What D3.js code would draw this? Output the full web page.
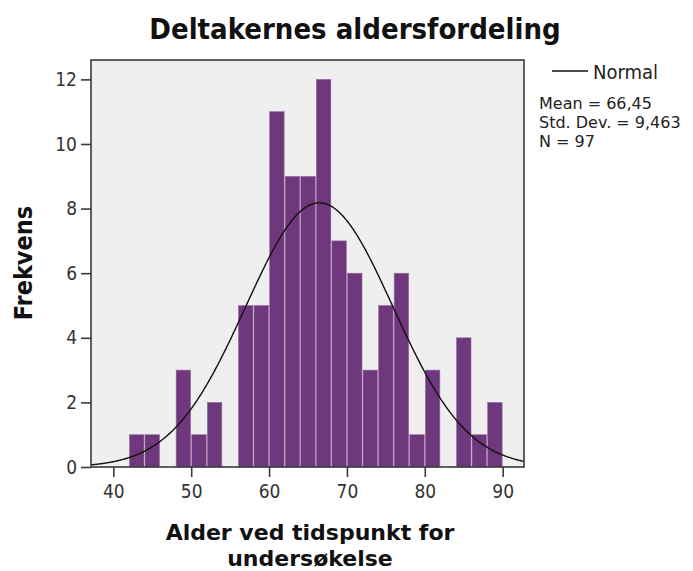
<!DOCTYPE html>
<html>
<head>
<meta charset="utf-8">
<script src="https://cdn.jsdelivr.net/npm/d3@7"></script>
<style>
  html, body { margin: 0; padding: 0; background: #ffffff; }
  svg { display: block; }
  text { font-family: "DejaVu Sans Condensed", "DejaVu Sans", sans-serif; }
</style>
</head>
<body>
<svg id="chart" width="693" height="571"></svg>
<script>
// ---- data ----
const binStarts = [42, 44, 46, 48, 50, 52, 54, 56, 58, 60, 62, 64, 66, 68, 70, 72, 74, 76, 78, 80, 82, 84, 86, 88];
const counts    = [ 1,  1,  0,  3,  1,  2,  0,  5,  5, 11,  9,  9, 12,  7,  6,  3,  5,  6,  1,  3,  0,  4,  1,  2];
const binWidth = 2;
const xTicks = [40, 50, 60, 70, 80, 90];
const yTicks = [0, 2, 4, 6, 8, 10, 12];
const statMean = 66.45;
const statSD = 9.463;
const statN = 97;
const titleText = "Deltakernes aldersfordeling";
const xLabelLines = ["Alder ved tidspunkt for", "undersøkelse"];
const yLabelText = "Frekvens";
const legendName = "Normal";
const legendLines = ["Mean = 66,45", "Std. Dev. = 9,463", "N = 97"];

// ---- layout ----
const svg = d3.select("#chart");
const plot = { left: 91, right: 524, top: 60, bottom: 467 };
const FONT = "DejaVu Sans Condensed, DejaVu Sans, sans-serif";
const FONT_REG = "DejaVu Sans, sans-serif";

const x = d3.scaleLinear().domain([37.13, 92.74]).range([plot.left, plot.right]);
const y = d3.scaleLinear().domain([0, 12.6]).range([plot.bottom, plot.top]);

// plot background
svg.append("rect")
  .attr("x", plot.left).attr("y", plot.top)
  .attr("width", plot.right - plot.left).attr("height", plot.bottom - plot.top)
  .attr("fill", "#efefef");

svg.append("clipPath").attr("id", "clip")
  .append("rect")
  .attr("x", plot.left).attr("y", plot.top)
  .attr("width", plot.right - plot.left).attr("height", plot.bottom - plot.top);

// bars
const bins = binStarts.map((s, i) => ({ x0: s, x1: s + binWidth, n: counts[i] })).filter(d => d.n > 0);
svg.append("g").selectAll("rect").data(bins).join("rect")
  .attr("x", d => x(d.x0) + 0.5)
  .attr("width", d => x(d.x1) - x(d.x0) - 1)
  .attr("y", d => y(d.n))
  .attr("height", d => y(0) - y(d.n))
  .attr("fill", "#6f387c")
  .attr("stroke", "#9a72a3")
  .attr("stroke-width", 0.6);

// normal curve
const curveXs = d3.range(x.domain()[0], x.domain()[1] + 0.01, 0.1);
const pdf = v => Math.exp(-0.5 * Math.pow((v - statMean) / statSD, 2)) / (statSD * Math.sqrt(2 * Math.PI));
svg.append("path")
  .datum(curveXs)
  .attr("clip-path", "url(#clip)")
  .attr("fill", "none")
  .attr("stroke", "#111")
  .attr("stroke-width", 1.4)
  .attr("d", d3.line().x(v => x(v)).y(v => y(statN * binWidth * pdf(v))));

// frame
svg.append("rect")
  .attr("x", plot.left).attr("y", plot.top)
  .attr("width", plot.right - plot.left).attr("height", plot.bottom - plot.top)
  .attr("fill", "none").attr("stroke", "#3a3a3a").attr("stroke-width", 1.6);

// axes
const xAxis = svg.append("g")
  .attr("transform", `translate(0,${plot.bottom})`)
  .call(d3.axisBottom(x).tickValues(xTicks).tickSize(10).tickPadding(7.5).tickFormat(d3.format("d")));
const yAxis = svg.append("g")
  .attr("transform", `translate(${plot.left},0)`)
  .call(d3.axisLeft(y).tickValues(yTicks).tickSize(10).tickPadding(4).tickFormat(d3.format("d")));
[xAxis, yAxis].forEach(g => {
  g.select(".domain").remove();
  g.selectAll(".tick line").attr("stroke", "#3a3a3a").attr("stroke-width", 1.6);
  g.selectAll(".tick text").attr("fill", "#333").style("font-size", "19px").style("font-family", FONT);
});

// title
svg.append("text")
  .attr("x", 355).attr("y", 38.5)
  .attr("text-anchor", "middle")
  .style("font-size", "29px").style("font-weight", "bold")
  .attr("fill", "#111")
  .text(titleText);

// y label
svg.append("text")
  .attr("transform", `translate(32,263) rotate(-90)`)
  .attr("text-anchor", "middle")
  .style("font-size", "25px").style("font-weight", "bold")
  .attr("fill", "#111")
  .text(yLabelText);

// x label
svg.append("g").selectAll("text").data(xLabelLines).join("text")
  .attr("x", 310)
  .attr("y", (d, i) => 540 + i * 26)
  .attr("text-anchor", "middle")
  .style("font-family", FONT_REG)
  .style("font-size", "22px").style("font-weight", "bold")
  .attr("fill", "#111")
  .text(d => d);

// legend
svg.append("line")
  .attr("x1", 552).attr("x2", 588).attr("y1", 71).attr("y2", 71)
  .attr("stroke", "#111").attr("stroke-width", 1.4);
svg.append("text")
  .attr("x", 593).attr("y", 79)
  .style("font-size", "20px").attr("fill", "#222")
  .text(legendName);
svg.append("g").selectAll("text").data(legendLines).join("text")
  .attr("x", 539)
  .attr("y", (d, i) => 109 + i * 19)
  .style("font-family", FONT_REG)
  .style("font-size", "16px").attr("fill", "#222")
  .text(d => d);
</script>
</body>
</html>
